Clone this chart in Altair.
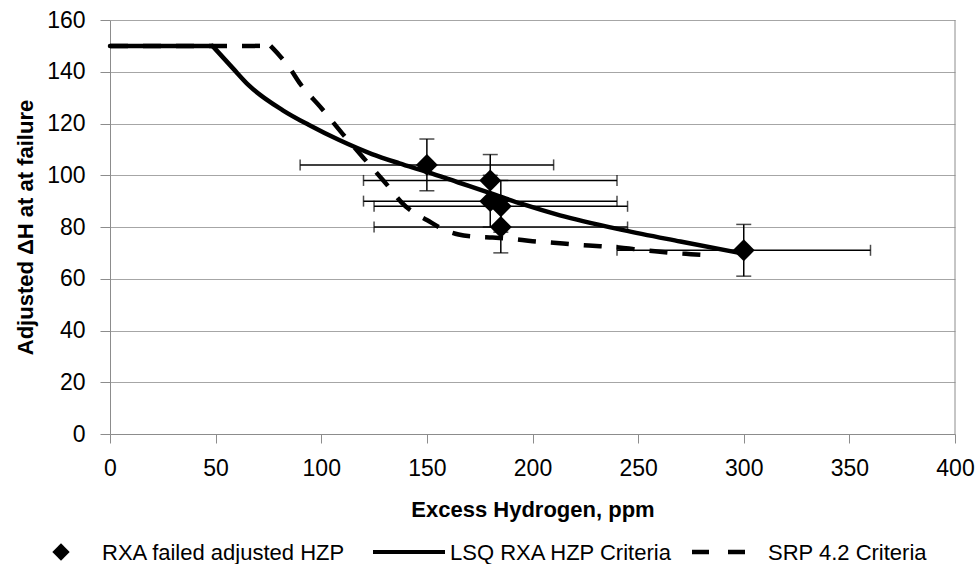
import altair as alt
import pandas as pd

# ---------------- data ----------------
pt_x = [150, 180, 180, 185, 185, 300]
pt_y = [104, 98, 90, 88, 80, 71]
pt_xerr = [60, 60, 60, 60, 60, 60]
pt_yerr = [10, 10, 10, 10, 10, 10]

# LSQ criterion: flat plateau, then the fitted curve
lsq_x = [0, 48.5, 48.5, 58, 66, 82, 94, 108.5, 124, 137, 150, 165, 180, 195, 213, 243, 270, 298]
lsq_y = [150, 150, 150, 141.5, 134.5, 125, 119.5, 113.6, 108.2, 104.6, 101.3, 97.2, 93.1, 88.9, 84.5, 78.8, 74.4, 70]
lsq_seg = ["flat", "flat"] + ["curve"] * 16

srp_x = [0, 76, 76, 80, 85, 90, 100, 110, 120, 130, 140, 145, 150, 157, 165, 173, 181,
         190, 200, 210, 220, 232, 242, 250, 258, 266, 275, 283]
srp_y = [150, 150, 150, 146.5, 141.5, 135.4, 126, 116.1, 106.7, 97.4, 87.9, 85, 82.7, 79.4, 77.1, 76.2, 75.9,
         75.4, 74.5, 73.9, 73.2, 72.6, 72, 71.3, 70.6, 70, 69.5, 69.1]
srp_seg = ["flat", "flat"] + ["curve"] * 26

x_ticks = [0, 50, 100, 150, 200, 250, 300, 350, 400]
y_ticks = [0, 20, 40, 60, 80, 100, 120, 140, 160]

legend_labels = ["RXA failed adjusted HZP", "LSQ RXA HZP Criteria", "SRP 4.2 Criteria"]

x_title = "Excess Hydrogen, ppm"
y_title = "Adjusted \u0394H at at failure"

FONT = "Liberation Sans, Arial, sans-serif"

# ---------------- tables ----------------
pts = pd.DataFrame({"x": pt_x, "y": pt_y, "xerr": pt_xerr, "yerr": pt_yerr})
pts["xlo"] = pts["x"] - pts["xerr"]
pts["xhi"] = pts["x"] + pts["xerr"]
pts["ylo"] = pts["y"] - pts["yerr"]
pts["yhi"] = pts["y"] + pts["yerr"]
lsq = pd.DataFrame({"x": lsq_x, "y": lsq_y, "seg": lsq_seg})
srp = pd.DataFrame({"x": srp_x, "y": srp_y, "seg": srp_seg})
one = pd.DataFrame({"k": [0]})

xscale = alt.Scale(domain=[0, 400], nice=False, zero=False)
yscale = alt.Scale(domain=[0, 160], nice=False)

x_axis = alt.Axis(values=x_ticks, grid=False, title=x_title, tickSize=9, labelFlush=False,
                  labelBaseline="alphabetic", labelPadding=32,
                  titleBaseline="alphabetic", titleY=82)
y_axis = alt.Axis(values=y_ticks, grid=True, title=y_title, tickSize=10, labelFlush=False,
                  labelPadding=15, titleAngle=270, titleBaseline="alphabetic",
                  titleX=-78, titleY=207)


def X(field):
    return alt.X(field, type="quantitative", scale=xscale, axis=x_axis, title=x_title)


def Y(field):
    return alt.Y(field, type="quantitative", scale=yscale, axis=y_axis, title=y_title)


border = alt.Chart(one).mark_rule(color="#8c8c8c", strokeWidth=1).encode(
    x=alt.value(845), y=alt.value(0), y2=alt.value(414)
)

lsq_line = alt.Chart(lsq).mark_line(color="black", strokeWidth=4.5, strokeCap="round",
                                    interpolate="monotone").encode(
    x=X("x"), y=Y("y"), detail="seg:N", order="x:Q"
)

srp_line = alt.Chart(srp).mark_line(color="black", strokeWidth=4.5, strokeDash=[18, 15],
                                    interpolate="monotone").encode(
    x=X("x"), y=Y("y"), detail="seg:N", order="x:Q"
)

xbar = alt.Chart(pts).mark_rule(color="black", strokeWidth=1.5).encode(
    x=X("xlo"), x2="xhi", y=Y("y")
)
ybar = alt.Chart(pts).mark_rule(color="black", strokeWidth=1.5).encode(
    x=X("x"), y=Y("ylo"), y2="yhi"
)
xcap_lo = alt.Chart(pts).mark_tick(color="black", orient="vertical", size=11, thickness=1.5).encode(
    x=X("xlo"), y=Y("y")
)
xcap_hi = alt.Chart(pts).mark_tick(color="black", orient="vertical", size=11, thickness=1.5).encode(
    x=X("xhi"), y=Y("y")
)
ycap_lo = alt.Chart(pts).mark_tick(color="black", orient="horizontal", size=15, thickness=1.5).encode(
    x=X("x"), y=Y("ylo")
)
ycap_hi = alt.Chart(pts).mark_tick(color="black", orient="horizontal", size=15, thickness=1.5).encode(
    x=X("x"), y=Y("yhi")
)

diamonds = alt.Chart(pts).mark_point(shape="diamond", filled=True, size=480, color="black",
                                     opacity=1).encode(x=X("x"), y=Y("y"))

# ---------------- legend (bottom, drawn by hand) ----------------
leg_y = 532
leg_diamond = alt.Chart(one).mark_point(shape="diamond", filled=True, size=300, color="black",
                                        opacity=1).encode(x=alt.value(-49), y=alt.value(leg_y))
leg_solid = alt.Chart(one).mark_rule(color="black", strokeWidth=4).encode(
    x=alt.value(263), x2=alt.value(335), y=alt.value(leg_y))
leg_dash = alt.Chart(one).mark_rule(color="black", strokeWidth=4.5, strokeDash=[17, 19]).encode(
    x=alt.value(582), x2=alt.value(636), y=alt.value(leg_y))


def leg_text(label, xpos):
    df = pd.DataFrame({"label": [label]})
    return alt.Chart(df).mark_text(align="left", baseline="alphabetic", font=FONT, fontSize=22,
                                   color="black").encode(
        x=alt.value(xpos), y=alt.value(leg_y + 8), text="label:N")


leg_t1 = leg_text(legend_labels[0], -8)
leg_t2 = leg_text(legend_labels[1], 340)
leg_t3 = leg_text(legend_labels[2], 658)

chart = alt.layer(
    border, lsq_line, srp_line, xbar, ybar, xcap_lo, xcap_hi, ycap_lo, ycap_hi, diamonds,
    leg_diamond, leg_solid, leg_dash, leg_t1, leg_t2, leg_t3
).properties(
    width=845, height=414,
    autosize=alt.AutoSizeParams(type="none"),
    padding={"left": 110, "top": 20, "right": 23, "bottom": 130},
    background="white",
).configure_view(
    stroke=None
).configure_axis(
    labelFont=FONT, labelFontSize=23, labelColor="black",
    titleFont=FONT, titleFontSize=22, titleFontWeight="bold", titleColor="black",
    domainColor="#8c8c8c", tickColor="#8c8c8c", gridColor="#a6a6a6",
    domainWidth=1, tickWidth=1, gridWidth=1
)

chart.save("out.html", embed_options={"renderer": "svg", "actions": False})
